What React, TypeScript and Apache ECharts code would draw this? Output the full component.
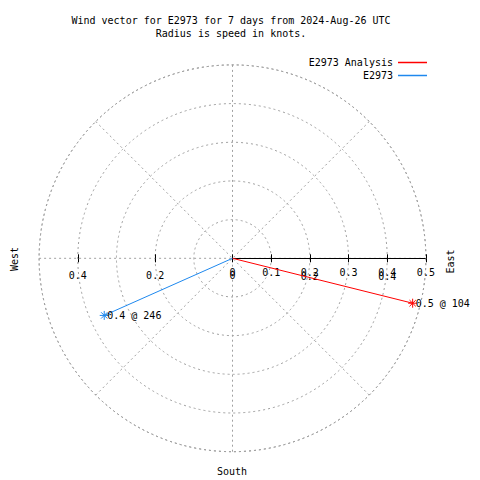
import React, { useEffect, useRef } from "react";
import * as echarts from "echarts";

const seriesNames = ["E2973 Analysis", "E2973"];
const speeds = [0.48, 0.363];
const directions = [104, 246];
const radiusTicks = [0, 0.1, 0.2, 0.3, 0.4, 0.5];
const westTicks = [0, 0.2, 0.4];
const doubledTicks = [0.2, 0.4];
const titleLines = ["Wind vector for E2973 for 7 days from 2024-Aug-26 UTC", "Radius is speed in knots."];
const compassLabels = ["West", "East", "South"];

const FONT = "DejaVu Sans Mono";
const COLORS = ["#ff0000", "#1e88ee"];
const GRID = "#a0a0a0";
const STAR = "path://M5,0L5,10M0,5L10,5M1.5,1.5L8.5,8.5M1.5,8.5L8.5,1.5";
const CENTER = [232.5, 258.3];
const RADIUS = 193.4;

export default function App() {
  const ref = useRef<HTMLDivElement>(null);
  useEffect(() => {
    if (!ref.current) return;
    const chart = echarts.init(ref.current, null, { renderer: "svg" });
    const rMax = radiusTicks[radiusTicks.length - 1];
    const polarBase = { center: CENTER, radius: RADIUS };
    const hiddenAngle = (start: number, idx: number) => ({
      polarIndex: idx, type: "value", startAngle: start, min: 0, max: 360, show: false,
    });
    const labelStyle = { fontFamily: FONT, fontSize: 10, color: "#000" };
    const option: any = {
      animation: false,
      backgroundColor: "#fff",
      title: {
        text: titleLines.join("\n"),
        left: 231,
        top: 13.5,
        textAlign: "center",
        padding: 0,
        textStyle: { fontFamily: FONT, fontSize: 10, fontWeight: "normal", color: "#000", lineHeight: 13 },
      },
      legend: seriesNames.map((n, i) => ({
        orient: "vertical",
        right: 53,
        top: 56 + i * 13,
        padding: 0,
        align: "right",
        icon: "rect",
        itemWidth: 29,
        itemHeight: 1.5,
        itemGap: 0,
        textStyle: { fontFamily: FONT, fontSize: 10, color: "#000", lineHeight: 13 },
        data: [{ name: n, itemStyle: { color: COLORS[i], borderWidth: 0 } }],
      })),
      polar: [polarBase, polarBase, polarBase, polarBase],
      angleAxis: [
        {
          polarIndex: 0,
          type: "value",
          startAngle: 0,
          clockwise: true,
          min: 90,
          max: 450,
          interval: 45,
          axisLine: { show: true, lineStyle: { color: GRID, type: [2, 3], width: 1 } },
          axisTick: { show: false },
          axisLabel: { show: false },
          splitLine: { show: true, lineStyle: { color: GRID, type: [2, 3], width: 1 } },
        },
        hiddenAngle(180, 1),
        hiddenAngle(0, 2),
        hiddenAngle(180, 3),
      ],
      radiusAxis: [
        {
          polarIndex: 0,
          type: "value",
          min: 0,
          max: rMax,
          interval: 0.1,
          axisLine: { show: true, lineStyle: { color: "#000", width: 1 } },
          axisTick: { show: true, length: 4, lineStyle: { color: "#000" } },
          axisLabel: { show: true, margin: -19, ...labelStyle },
          splitLine: { show: true, lineStyle: { color: GRID, type: [2, 3], width: 1 } },
        },
        {
          polarIndex: 1,
          type: "value",
          min: 0,
          max: rMax,
          interval: 0.1,
          axisLine: { show: false },
          axisTick: { show: true, length: 4, customValues: doubledTicks, lineStyle: { color: "#000" } },
          axisLabel: { show: true, margin: 12, customValues: westTicks, ...labelStyle },
          splitLine: { show: false },
        },
        {
          polarIndex: 2,
          type: "value",
          min: 0,
          max: rMax,
          interval: 0.1,
          axisLine: { show: false },
          axisTick: { show: true, length: -4, lineStyle: { color: "#000" } },
          axisLabel: { show: true, margin: -23, customValues: doubledTicks, ...labelStyle },
          splitLine: { show: false },
        },
        {
          polarIndex: 3,
          type: "value",
          min: 0,
          max: rMax,
          interval: 0.1,
          axisLine: { show: false },
          axisTick: { show: true, length: -4, customValues: doubledTicks, lineStyle: { color: "#000" } },
          axisLabel: { show: false },
          splitLine: { show: false },
        },
      ],
      series: seriesNames.map((name, i) => ({
        name,
        type: "line",
        coordinateSystem: "polar",
        polarIndex: 0,
        color: COLORS[i],
        lineStyle: { color: COLORS[i], width: 1 },
        itemStyle: { color: "transparent", borderColor: COLORS[i], borderWidth: 1 },
        symbol: STAR,
        symbolSize: 9,
        data: [
          { value: [0, directions[i]], symbol: "none" },
          {
            value: [speeds[i], directions[i]],
            label: {
              show: true,
              position: "right",
              distance: -2,
              formatter: `${speeds[i].toFixed(1)} @ ${directions[i]}`,
              ...labelStyle,
            },
          },
        ],
      })),
      graphic: [
        { type: "text", x: 14, y: 259, rotation: Math.PI / 2, style: { text: compassLabels[0], font: `10px ${FONT}`, fill: "#000", align: "center", verticalAlign: "middle" } },
        { type: "text", x: 450.5, y: 261.5, rotation: Math.PI / 2, style: { text: compassLabels[1], font: `10px ${FONT}`, fill: "#000", align: "center", verticalAlign: "middle" } },
        { type: "text", x: 232, y: 471, style: { text: compassLabels[2], font: `10px ${FONT}`, fill: "#000", align: "center", verticalAlign: "middle" } },
      ],
    };
    chart.setOption(option);
    return () => chart.dispose();
  }, []);
  return <div ref={ref} style={{ position: "fixed", left: 0, top: 0, width: 480, height: 480 }} />;
}
